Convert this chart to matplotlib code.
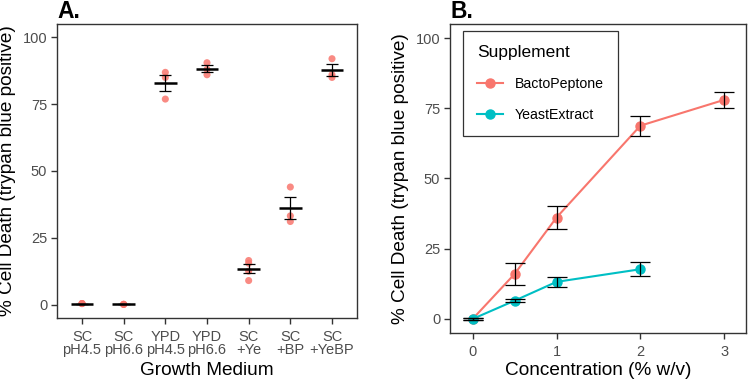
import numpy as np
import matplotlib.pyplot as plt
from matplotlib.lines import Line2D

plt.rcParams['font.family'] = ['Liberation Sans', 'DejaVu Sans']

# panel A: replicate values per growth medium
media = ["SC\npH4.5", "SC\npH6.6", "YPD\npH4.5", "YPD\npH6.6", "SC\n+Ye", "SC\n+BP", "SC\n+YeBP"]
death_reps = [
    [0.4, 0.4, 0.4],
    [0.1, 0.1, 0.1],
    [86.9, 85.0, 76.9],
    [90.5, 88.0, 86.0],
    [16.5, 15.5, 12.5, 9.0],
    [44.0, 33.2, 31.1],
    [92.0, 86.0, 85.0],
]

# panel B: mean +/- se per concentration
conc_bp = [0, 0.5, 1, 2, 3]
bp_mean = [0.0, 16.0, 36.1, 68.8, 78.0]
bp_se = [0.2, 4.0, 4.0, 3.6, 2.8]
conc_ye = [0, 0.5, 1, 2]
ye_mean = [0.0, 6.5, 13.2, 17.7]
ye_se = [0.2, 0.6, 1.7, 2.4]

red = "#F8766D"
teal = "#00BFC4"
frame = "#333333"
ticklab = "#4D4D4D"
ylab = "% Cell Death (trypan blue positive)"

fig = plt.figure(figsize=(7.5, 3.81), dpi=100)
axA = fig.add_axes([0.076, 0.1654, 0.4, 0.7717])
axB = fig.add_axes([0.6, 0.126, 0.3947, 0.811])

def style(ax):
    for s in ax.spines.values():
        s.set_color(frame)
        s.set_linewidth(1.0)
    ax.tick_params(length=4, width=1, color=frame, labelcolor=ticklab, labelsize=10.5, pad=3)
    ax.set_ylim(-5, 105)
    ax.set_yticks([0, 25, 50, 75, 100])

# ---- A ----
for i, reps in enumerate(death_reps):
    x = i + 1
    reps = np.array(reps)
    m = reps.mean()
    se = reps.std(ddof=1) / np.sqrt(len(reps))
    axA.scatter([x] * len(reps), reps, s=26, color=red, alpha=0.85, edgecolors='none', zorder=2)
    axA.errorbar(x, m, yerr=se, fmt='none', ecolor='black', elinewidth=0.9, capsize=4, capthick=0.9, zorder=3)
    axA.hlines(m, x - 0.27, x + 0.27, color='black', lw=1.8, zorder=4)

axA.set_xlim(0.4, 7.6)
axA.set_xticks(range(1, len(media) + 1))
axA.set_xticklabels(media, linespacing=0.85)
style(axA)
axA.tick_params(axis='x', pad=5)
axA.set_xlabel("Growth Medium", fontsize=13.7)
axA.xaxis.set_label_coords(0.5, -0.15)
axA.set_ylabel(ylab, fontsize=13.7)
axA.yaxis.set_label_coords(-0.137, 0.5)
axA.set_title("A.", loc='left', fontsize=16.5, fontweight='bold', pad=4)

# ---- B ----
axB.plot(conc_bp, bp_mean, color=red, lw=1.5, marker='o', ms=6.5, zorder=2)
axB.plot(conc_ye, ye_mean, color=teal, lw=1.5, marker='o', ms=6.5, zorder=2)
axB.errorbar(conc_bp, bp_mean, yerr=bp_se, fmt='none', ecolor='black', elinewidth=0.9, capsize=7, capthick=0.9, zorder=3)
axB.errorbar(conc_ye, ye_mean, yerr=ye_se, fmt='none', ecolor='black', elinewidth=0.9, capsize=7, capthick=0.9, zorder=3)
axB.set_xlim(-0.27, 3.26)
axB.set_xticks([0, 1, 2, 3])
style(axB)
axB.tick_params(axis='x', pad=5)
axB.set_xlabel("Concentration (% w/v)", fontsize=13.7)
axB.xaxis.set_label_coords(0.5, -0.094)
axB.set_ylabel(ylab, fontsize=13.7)
axB.yaxis.set_label_coords(-0.139, 0.5)
axB.set_title("B.", loc='left', fontsize=16.5, fontweight='bold', pad=4)

handles = [Line2D([], [], color=red, lw=1.5, marker='o', ms=6.5),
           Line2D([], [], color=teal, lw=1.5, marker='o', ms=6.5)]
leg = axB.legend(handles, ["BactoPeptone", "YeastExtract"], title="Supplement",
                 loc='upper left', bbox_to_anchor=(0.044, 0.977), borderaxespad=0,
                 fontsize=10.2, title_fontsize=12.5, alignment='left', fancybox=False,
                 edgecolor=frame, framealpha=1, handlelength=1.8, handletextpad=0.85,
                 labelspacing=1.2, borderpad=1.0)
leg.get_frame().set_linewidth(0.9)

fig.savefig("out.png", dpi=100)
